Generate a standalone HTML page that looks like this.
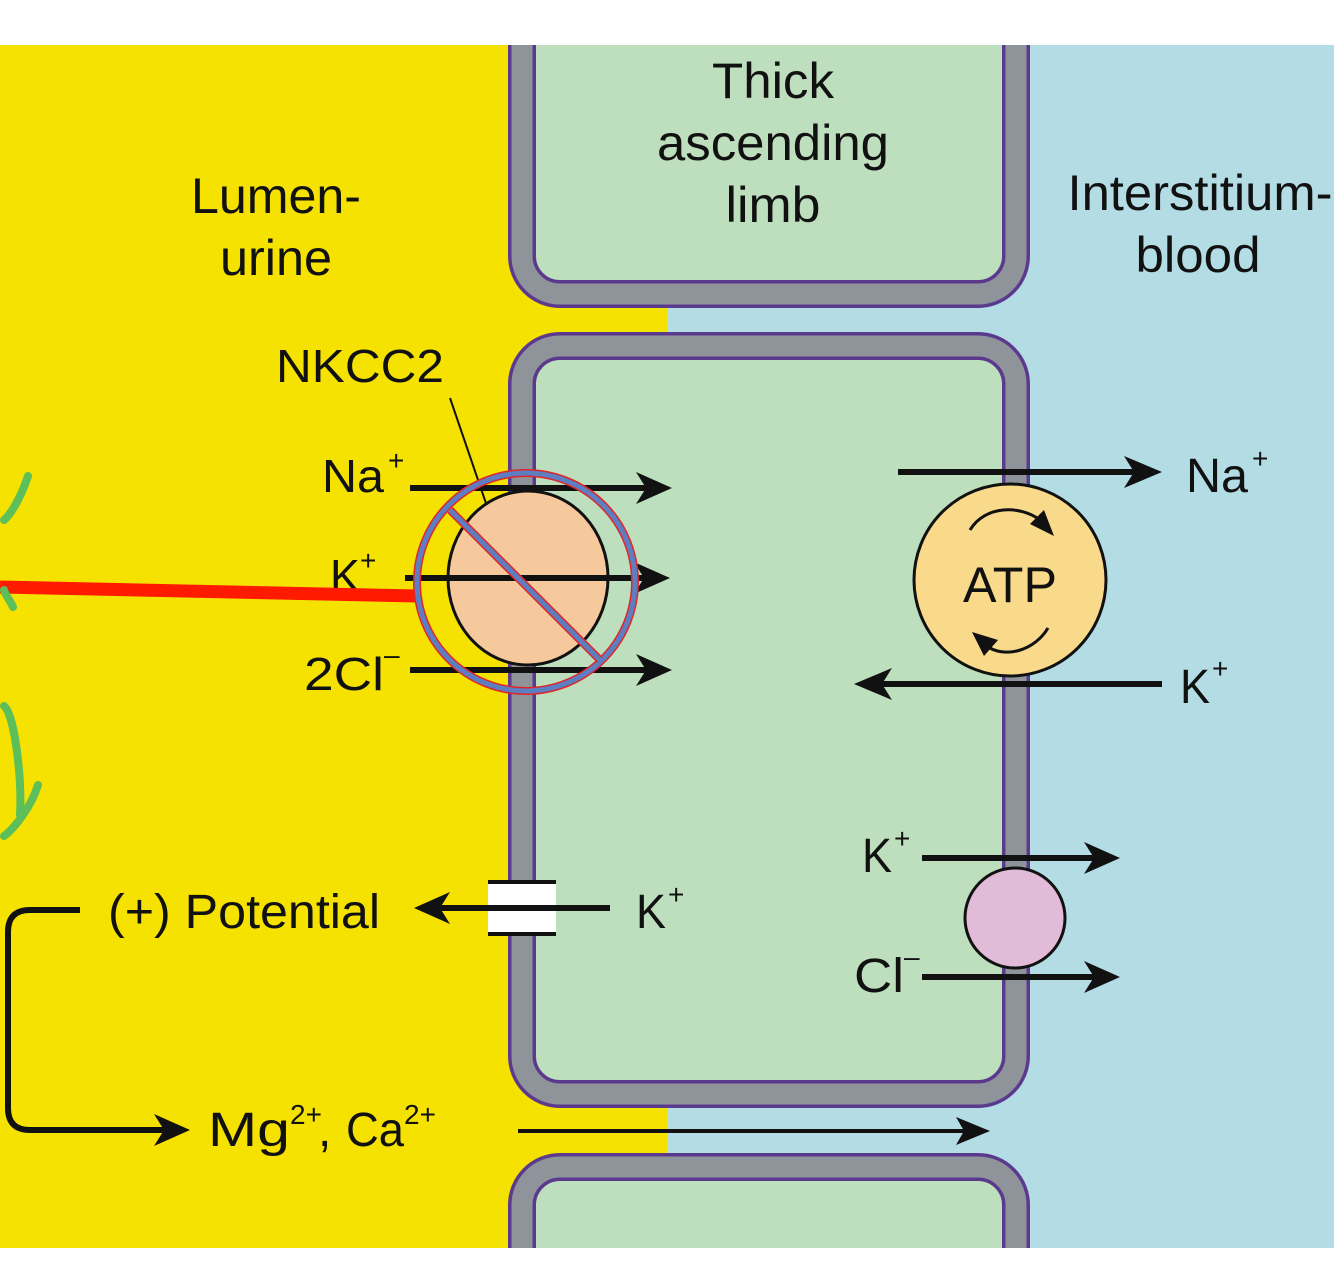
<!DOCTYPE html>
<html><head><meta charset="utf-8"><style>html,body{margin:0;padding:0;background:#fff;width:1334px;height:1274px;overflow:hidden}svg{display:block}</style></head><body>
<svg width="1334" height="1274" viewBox="0 0 1334 1274" xmlns="http://www.w3.org/2000/svg" font-family="Liberation Sans, Arial, sans-serif" fill="#111">
<rect x="0" y="0" width="1334" height="1274" fill="#fff"/>
<rect x="0" y="45" width="667" height="1203" fill="#f6e200"/>
<rect x="667" y="45" width="667" height="1203" fill="#b3dce4"/>
<g fill="#bedfbd">
<path d="M522,45 L522,256 A38,38 0 0 0 560,294 L978,294 A38,38 0 0 0 1016,256 L1016,45 Z"/>
<rect x="522" y="346" width="494" height="748" rx="38"/>
<path d="M522,1248 L522,1205 A38,38 0 0 1 560,1167 L978,1167 A38,38 0 0 1 1016,1205 L1016,1248 Z"/>
</g>
<g fill="none" stroke="#5b3a8e" stroke-width="28">
<path d="M522,45 L522,256 A38,38 0 0 0 560,294 L978,294 A38,38 0 0 0 1016,256 L1016,45"/>
<rect x="522" y="346" width="494" height="748" rx="38"/>
<path d="M522,1248 L522,1205 A38,38 0 0 1 560,1167 L978,1167 A38,38 0 0 1 1016,1205 L1016,1248"/>
</g>
<g fill="none" stroke="#8f949b" stroke-width="21">
<path d="M522,45 L522,256 A38,38 0 0 0 560,294 L978,294 A38,38 0 0 0 1016,256 L1016,45"/>
<rect x="522" y="346" width="494" height="748" rx="38"/>
<path d="M522,1248 L522,1205 A38,38 0 0 1 560,1167 L978,1167 A38,38 0 0 1 1016,1205 L1016,1248"/>
</g>
<g font-size="50" text-anchor="middle">
<text x="773" y="98" textLength="122" lengthAdjust="spacingAndGlyphs">Thick</text>
<text x="773" y="160" textLength="232" lengthAdjust="spacingAndGlyphs">ascending</text>
<text x="773" y="222" textLength="95" lengthAdjust="spacingAndGlyphs">limb</text>
<text x="276" y="213" textLength="170" lengthAdjust="spacingAndGlyphs">Lumen-</text>
<text x="276" y="275" textLength="112" lengthAdjust="spacingAndGlyphs">urine</text>
<text x="1200" y="210" textLength="265" lengthAdjust="spacingAndGlyphs">Interstitium-</text>
<text x="1198" y="272" textLength="125" lengthAdjust="spacingAndGlyphs">blood</text>
</g>
<text x="276" y="382" font-size="46" textLength="168" lengthAdjust="spacingAndGlyphs">NKCC2</text>
<line x1="450" y1="398" x2="490" y2="515" stroke="#111" stroke-width="2"/>
<ellipse cx="528" cy="578" rx="80" ry="87" fill="#f6c99c" stroke="#111" stroke-width="3"/>
<g stroke="#111" stroke-width="6">
<line x1="410" y1="488" x2="650" y2="488"/>
<line x1="405" y1="578" x2="648" y2="578"/>
<line x1="410" y1="670" x2="650" y2="670"/>
</g>
<g fill="#111">
<polygon points="672,488 636,472 646,488 636,504"/>
<polygon points="670,578 634,562 644,578 634,594"/>
<polygon points="672,670 636,654 646,670 636,686"/>
</g>
<g font-size="46">
<text x="322" y="492" textLength="62" lengthAdjust="spacingAndGlyphs">Na</text><text x="388" y="470" font-size="28">+</text>
<text x="330" y="592" textLength="30" lengthAdjust="spacingAndGlyphs">K</text><text x="360" y="570" font-size="28">+</text>
<text x="304" y="690" textLength="80" lengthAdjust="spacingAndGlyphs">2Cl</text><text x="384" y="664" font-size="28">–</text>
</g>
<line x1="0" y1="587" x2="418" y2="596" stroke="#ff1a00" stroke-width="13"/>
<circle cx="526" cy="582" r="109" fill="none" stroke="#e0262a" stroke-width="8"/>
<circle cx="526" cy="582" r="109" fill="none" stroke="#5d7fc1" stroke-width="5"/>
<line x1="450" y1="510" x2="600" y2="660" stroke="#e0262a" stroke-width="8"/>
<line x1="450" y1="510" x2="600" y2="660" stroke="#5d7fc1" stroke-width="5"/>
<g fill="none" stroke="#5cbf5a" stroke-width="8" stroke-linecap="round">
<path d="M28,476 C20,500 10,515 4,520"/>
<path d="M4,590 C5,595 10,600 13,607"/>
<path d="M4,706 C15,715 22,780 20,815"/>
<path d="M38,785 C32,805 15,828 4,836"/>
</g>
<circle cx="1010" cy="580" r="96" fill="#f9d98a" stroke="#111" stroke-width="3"/>
<text x="1010" y="602" font-size="50" text-anchor="middle" textLength="94" lengthAdjust="spacingAndGlyphs">ATP</text>
<path d="M970,530 C985,505 1020,505 1040,520" fill="none" stroke="#111" stroke-width="3"/>
<polygon points="1054,536 1030,524 1044,510"/>
<path d="M1048,628 C1035,650 1005,660 985,645" fill="none" stroke="#111" stroke-width="3"/>
<polygon points="972,632 998,640 984,656"/>
<line x1="898" y1="472" x2="1140" y2="472" stroke="#111" stroke-width="6"/>
<polygon points="1162,472 1124,456 1134,472 1124,488"/>
<text x="1186" y="492" font-size="48" textLength="62" lengthAdjust="spacingAndGlyphs">Na</text><text x="1252" y="468" font-size="28">+</text>
<line x1="878" y1="684" x2="1162" y2="684" stroke="#111" stroke-width="6"/>
<polygon points="854,684 892,668 882,684 892,700"/>
<text x="1180" y="703" font-size="48" textLength="30" lengthAdjust="spacingAndGlyphs">K</text><text x="1212" y="678" font-size="28">+</text>
<circle cx="1015" cy="918" r="50" fill="#e1bbd8" stroke="#111" stroke-width="3"/>
<line x1="922" y1="858" x2="1100" y2="858" stroke="#111" stroke-width="6"/>
<polygon points="1120,858 1084,842 1094,858 1084,874"/>
<line x1="922" y1="977" x2="1100" y2="977" stroke="#111" stroke-width="6"/>
<polygon points="1120,977 1084,961 1094,977 1084,993"/>
<text x="862" y="872" font-size="48" textLength="30" lengthAdjust="spacingAndGlyphs">K</text><text x="894" y="848" font-size="28">+</text>
<text x="854" y="992" font-size="48" textLength="50" lengthAdjust="spacingAndGlyphs">Cl</text><text x="904" y="966" font-size="28">–</text>
<rect x="488" y="882" width="68" height="52" fill="#fff"/>
<g stroke="#111" stroke-width="4"><line x1="488" y1="882" x2="556" y2="882"/><line x1="488" y1="934" x2="556" y2="934"/></g>
<line x1="440" y1="908" x2="610" y2="908" stroke="#111" stroke-width="6"/>
<polygon points="414,908 450,892 440,908 450,924"/>
<text x="636" y="928" font-size="48" textLength="30" lengthAdjust="spacingAndGlyphs">K</text><text x="668" y="904" font-size="28">+</text>
<text x="108" y="928" font-size="48" textLength="272" lengthAdjust="spacingAndGlyphs">(+) Potential</text>
<path d="M80,910 L30,910 Q8,910 8,932 L8,1108 Q8,1130 30,1130 L170,1130" fill="none" stroke="#111" stroke-width="6"/>
<polygon points="190,1130 154,1114 164,1130 154,1146"/>
<text x="208" y="1146" font-size="48" textLength="82" lengthAdjust="spacingAndGlyphs">Mg</text><text x="290" y="1124" font-size="28">2+</text>
<text x="318" y="1146" font-size="48">,</text>
<text x="346" y="1146" font-size="48" textLength="58" lengthAdjust="spacingAndGlyphs">Ca</text><text x="404" y="1124" font-size="28">2+</text>
<line x1="518" y1="1131" x2="970" y2="1131" stroke="#111" stroke-width="4"/>
<polygon points="990,1131 956,1117 964,1131 956,1145"/>
</svg>
</body></html>
